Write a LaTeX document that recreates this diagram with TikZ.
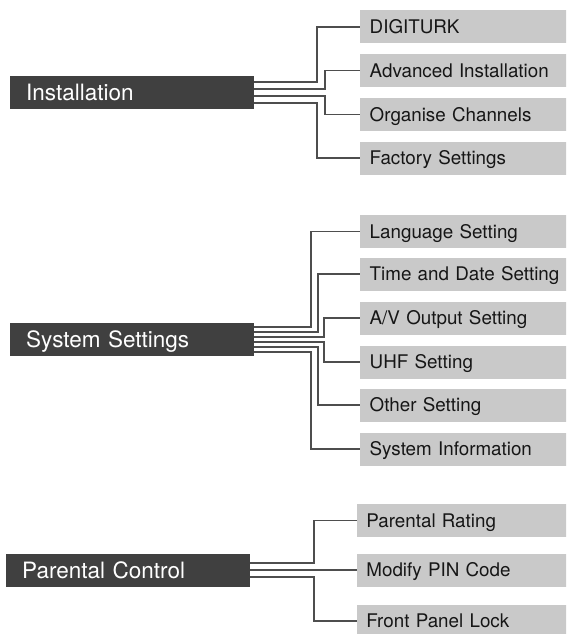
\documentclass[tikz,border=0pt]{standalone}
\usepackage{fontspec}
\setmainfont{TeX Gyre Heros}
\definecolor{darkfill}{HTML}{404040}
\definecolor{greyfill}{HTML}{C9C9C9}
\definecolor{linecol}{HTML}{4E4E4E}
\definecolor{greytext}{HTML}{161616}
\begin{document}
\begin{tikzpicture}[x=1pt,y=-1pt,
  darkbox/.style={fill=darkfill, text=white, font=\fontsize{22.5}{24}\selectfont,
    anchor=west, minimum height=33pt, text width=212pt, inner xsep=16pt,
    inner ysep=0pt, align=left, text height=16.1pt, text depth=0pt},
  greybox/.style={fill=greyfill, text=greytext, font=\fontsize{18.8}{21}\selectfont,
    anchor=west, minimum height=33pt, text width=240pt, inner xsep=9.5pt,
    inner ysep=0pt, align=left, text height=13.6pt, text depth=0pt},
  conn/.style={draw=linecol, line width=1.6pt}]
\clip (0,0) rectangle (566,634);
\fill[white] (0,0) rectangle (566,634);
% Installation
\node[darkbox] (inst) at (10,92.5) {Installation};
\node[greybox] (i1) at (360,27) {DIGITURK};
\node[greybox] (i2) at (360,70.5) {Advanced Installation};
\node[greybox] (i3) at (360,114.5) {Organise Channels};
\node[greybox] (i4) at (360,158) {Factory Settings};
\draw[conn] ([yshift=10.5pt]inst.east) -| ([xshift=-43pt]i1.west) -- (i1.west);
\draw[conn] ([yshift=3.5pt]inst.east) -| ([xshift=-35pt]i2.west) -- (i2.west);
\draw[conn] ([yshift=-3.5pt]inst.east) -| ([xshift=-35pt]i3.west) -- (i3.west);
\draw[conn] ([yshift=-10.5pt]inst.east) -| ([xshift=-43pt]i4.west) -- (i4.west);
% System Settings
\node[darkbox] (sys) at (10,339.3) {System Settings};
\node[greybox] (s1) at (360,231.5) {Language Setting};
\node[greybox] (s2) at (360,274) {Time and Date Setting};
\node[greybox] (s3) at (360,318) {A/V Output Setting};
\node[greybox] (s4) at (360,362) {UHF Setting};
\node[greybox] (s5) at (360,405) {Other Setting};
\node[greybox] (s6) at (360,449) {System Information};
\draw[conn] ([yshift=12.5pt]sys.east) -| ([xshift=-49pt]s1.west) -- (s1.west);
\draw[conn] ([yshift=7.5pt]sys.east) -| ([xshift=-42pt]s2.west) -- (s2.west);
\draw[conn] ([yshift=2.5pt]sys.east) -| ([xshift=-36pt]s3.west) -- (s3.west);
\draw[conn] ([yshift=-2.5pt]sys.east) -| ([xshift=-36pt]s4.west) -- (s4.west);
\draw[conn] ([yshift=-7.5pt]sys.east) -| ([xshift=-42pt]s5.west) -- (s5.west);
\draw[conn] ([yshift=-12.5pt]sys.east) -| ([xshift=-49pt]s6.west) -- (s6.west);
% Parental Control
\node[darkbox] (par) at (6,570) {Parental Control};
\node[greybox] (p1) at (356.7,520.5) {Parental Rating};
\node[greybox] (p2) at (356.7,570) {Modify PIN Code};
\node[greybox] (p3) at (356.7,621) {Front Panel Lock};
\draw[conn] ([yshift=7pt]par.east) -| ([xshift=-42.7pt]p1.west) -- (p1.west);
\draw[conn] (par.east) -- (p2.west);
\draw[conn] ([yshift=-7pt]par.east) -| ([xshift=-42.7pt]p3.west) -- (p3.west);
\end{tikzpicture}
\end{document}
